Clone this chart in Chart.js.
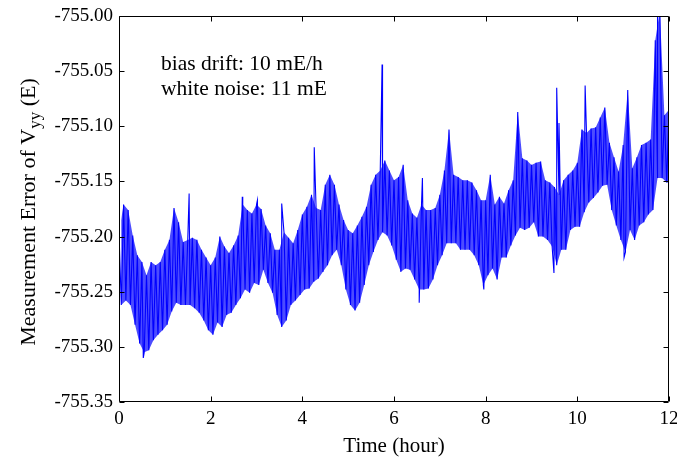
<!DOCTYPE html>
<html>
<head>
<meta charset="utf-8">
<script src="https://cdn.jsdelivr.net/npm/chart.js@4"></script>
<style>
  html, body { margin: 0; padding: 0; background: #fff; }
  canvas { display: block; }
</style>
</head>
<body>
<canvas id="c" width="677" height="461"></canvas>
<script>
const hours = [
  0.0,0.1,0.2,0.3,0.4,0.5,0.6,0.7,0.8,0.9,
  1.0,1.1,1.2,1.3,1.4,1.5,1.6,1.7,1.8,1.9,
  2.0,2.1,2.2,2.3,2.4,2.5,2.6,2.7,2.8,2.9,
  3.0,3.1,3.2,3.3,3.4,3.5,3.6,3.7,3.8,3.9,
  4.0,4.1,4.2,4.3,4.4,4.5,4.6,4.7,4.8,4.9,
  5.0,5.1,5.2,5.3,5.4,5.5,5.6,5.7,5.8,5.9,
  6.0,6.1,6.2,6.3,6.4,6.5,6.6,6.7,6.8,6.9,
  7.0,7.1,7.2,7.3,7.4,7.5,7.6,7.7,7.8,7.9,
  8.0,8.1,8.2,8.3,8.4,8.5,8.6,8.7,8.8,8.9,
  9.0,9.1,9.2,9.3,9.4,9.5,9.6,9.7,9.8,9.9,
  10.0,10.1,10.2,10.3,10.4,10.5,10.6,10.7,10.8,10.9,
  11.0,11.1,11.2,11.3,11.4,11.5,11.6,11.7,11.8,11.9,
  12.0
];
const highs = [
  -755.196,-755.171,-755.176,-755.199,-755.217,-755.223,-755.235,-755.223,-755.226,-755.223,
  -755.212,-755.203,-755.174,-755.187,-755.205,-755.203,-755.201,-755.203,-755.212,-755.219,
  -755.226,-755.219,-755.200,-755.209,-755.215,-755.208,-755.199,-755.171,-755.176,-755.179,
  -755.171,-755.175,-755.190,-755.197,-755.212,-755.212,-755.196,-755.201,-755.206,-755.194,
  -755.180,-755.173,-755.162,-755.174,-755.176,-755.153,-755.144,-755.153,-755.171,-755.185,
  -755.194,-755.197,-755.190,-755.182,-755.173,-755.153,-755.144,-755.140,-755.131,-755.140,
  -755.149,-755.146,-755.135,-755.167,-755.179,-755.183,-755.171,-755.176,-755.176,-755.174,
  -755.162,-755.140,-755.103,-755.144,-755.146,-755.149,-755.149,-755.151,-755.158,-755.167,
  -755.167,-755.144,-755.171,-755.164,-755.170,-755.158,-755.149,-755.087,-755.129,-755.131,
  -755.135,-755.133,-755.132,-755.149,-755.151,-755.155,-755.162,-755.149,-755.144,-755.140,
  -755.133,-755.103,-755.106,-755.102,-755.101,-755.092,-755.083,-755.115,-755.128,-755.141,
  -755.117,-755.067,-755.138,-755.128,-755.117,-755.115,-755.112,-755.022,-754.995,-755.090,
  -755.085
];
const lows = [
  -755.262,-755.258,-755.262,-755.280,-755.297,-755.305,-755.303,-755.294,-755.289,-755.285,
  -755.280,-755.268,-755.260,-755.262,-755.262,-755.262,-755.265,-755.269,-755.276,-755.285,
  -755.289,-755.278,-755.282,-755.271,-755.269,-755.262,-755.256,-755.248,-755.251,-755.242,
  -755.244,-755.230,-755.242,-755.251,-755.271,-755.282,-755.276,-755.262,-755.258,-755.253,
  -755.248,-755.247,-755.241,-755.238,-755.232,-755.226,-755.217,-755.212,-755.226,-755.248,
  -755.262,-755.267,-755.260,-755.244,-755.226,-755.214,-755.203,-755.196,-755.199,-755.208,
  -755.221,-755.232,-755.229,-755.230,-755.239,-755.248,-755.248,-755.247,-755.239,-755.226,
  -755.217,-755.206,-755.206,-755.206,-755.212,-755.212,-755.212,-755.217,-755.226,-755.244,
  -755.235,-755.229,-755.239,-755.219,-755.219,-755.208,-755.199,-755.192,-755.194,-755.192,
  -755.187,-755.200,-755.200,-755.203,-755.209,-755.226,-755.212,-755.212,-755.194,-755.191,
  -755.191,-755.178,-755.169,-755.165,-755.160,-755.154,-755.153,-755.176,-755.190,-755.203,
  -755.214,-755.194,-755.203,-755.190,-755.187,-755.180,-755.176,-755.147,-755.147,-755.151,
  -755.151
];
// single spikes that stick out of the band
const spikeHours = [0.53, 1.53, 2.69, 3.02, 3.55, 4.26, 5.74, 6.55, 6.62, 7.96, 9.49, 9.55, 9.60, 10.17, 11.02, 11.75];
const spikeVals  = [-755.310, -755.161, -755.164, -755.167, -755.170, -755.119, -755.044, -755.260, -755.147, -755.248, -755.233, -755.065, -755.097, -755.063, -755.219, -754.985];

const xTicks = [0, 2, 4, 6, 8, 10, 12];
const yTicks = [-755.35, -755.30, -755.25, -755.20, -755.15, -755.10, -755.05, -755.00];
const notes = ['bias drift: 10 mE/h', 'white noise: 11 mE'];

const SERIF = '"Liberation Serif", "Times New Roman", serif';

// zig-zag between envelope values, lower value half a bin later
let pts = [];
hours.forEach((h, i) => {
    pts.push({ x: h, y: highs[i] });
    pts.push({ x: h + 0.05, y: lows[i] });
});
spikeHours.forEach((h, i) => pts.push({ x: h, y: spikeVals[i] }));
pts.sort((a, b) => a.x - b.x);

const upper = hours.map((h, i) => ({ x: h, y: highs[i] }));
const lower = hours.map((h, i) => ({ x: h + 0.05, y: lows[i] }));

const frame = {
    id: 'frame',
    afterDraw(chart) {
        const { ctx, chartArea: a, scales } = chart;
        const L = Math.round(a.left) + 0.5, R = Math.round(a.right) - 0.5;
        const T = Math.round(a.top) + 0.5, B = Math.round(a.bottom) - 0.5;
        ctx.save();
        ctx.strokeStyle = '#000';
        ctx.lineWidth = 1;
        ctx.beginPath();
        ctx.rect(L, T, R - L, B - T);
        // inward ticks on all four sides
        xTicks.forEach(v => {
            const px = Math.round(scales.x.getPixelForValue(v)) + 0.5;
            ctx.moveTo(px, B); ctx.lineTo(px, B - 5);
            ctx.moveTo(px, T); ctx.lineTo(px, T + 5);
        });
        yTicks.forEach(v => {
            const py = Math.round(scales.y.getPixelForValue(v)) + 0.5;
            ctx.moveTo(L, py); ctx.lineTo(L + 5, py);
            ctx.moveTo(R, py); ctx.lineTo(R - 5, py);
        });
        ctx.stroke();

        ctx.fillStyle = '#000';
        ctx.font = '21.5px ' + SERIF;
        ctx.textBaseline = 'alphabetic';
        ctx.textAlign = 'left';
        ctx.fillText(notes[0], a.left + 42, a.top + 54);
        ctx.fillText(notes[1], a.left + 42, a.top + 79);

        ctx.font = '21px ' + SERIF;
        ctx.textAlign = 'center';
        ctx.fillText('Time (hour)', (a.left + a.right) / 2, 452);

        // y title with subscript
        const p1 = 'Measurement Error of V', p2 = 'yy', p3 = ' (E)';
        ctx.font = '22px ' + SERIF;
        const w1 = ctx.measureText(p1).width, w3 = ctx.measureText(p3).width;
        ctx.font = '17px ' + SERIF;
        const w2 = ctx.measureText(p2).width;
        const W = w1 + w2 + w3;
        ctx.translate(35, (a.top + a.bottom) / 2 + 3);
        ctx.rotate(-Math.PI / 2);
        ctx.textAlign = 'left';
        ctx.font = '22px ' + SERIF;
        ctx.fillText(p1, -W / 2, 0);
        ctx.font = '17px ' + SERIF;
        ctx.fillText(p2, -W / 2 + w1, 5);
        ctx.font = '22px ' + SERIF;
        ctx.fillText(p3, -W / 2 + w1 + w2, 0);
        ctx.restore();
    }
};

new Chart(document.getElementById('c').getContext('2d'), {
    type: 'line',
    data: {
        datasets: [{
            data: pts,
            borderColor: '#0000ff',
            borderWidth: 1.1,
            pointRadius: 0,
            tension: 0,
            fill: false
        }, {
            data: upper,
            borderWidth: 0,
            borderColor: 'rgba(0,0,0,0)',
            pointRadius: 0,
            tension: 0,
            backgroundColor: 'rgba(0,0,255,0.7)',
            fill: '+1'
        }, {
            data: lower,
            borderWidth: 0,
            borderColor: 'rgba(0,0,0,0)',
            pointRadius: 0,
            tension: 0,
            fill: false
        }]
    },
    options: {
        responsive: false,
        animation: false,
        parsing: false,
        layout: { padding: { left: 0, top: 16, right: 8, bottom: 0 } },
        plugins: { legend: { display: false }, tooltip: { enabled: false } },
        scales: {
            x: {
                type: 'linear', min: 0, max: 12,
                afterBuildTicks: s => { s.ticks = xTicks.map(v => ({ value: v })); },
                ticks: { color: '#000', font: { family: SERIF, size: 19 }, padding: 6, maxRotation: 0 },
                grid: { display: false, drawTicks: false },
                border: { display: false },
                afterFit: s => { s.height = 59; s.paddingLeft = 0; s.paddingRight = 0; }
            },
            y: {
                min: -755.35, max: -755.00,
                afterBuildTicks: s => { s.ticks = yTicks.map(v => ({ value: v })); },
                ticks: { color: '#000', font: { family: SERIF, size: 19 }, padding: 6,
                         callback: v => v.toFixed(2) },
                grid: { display: false, drawTicks: false },
                border: { display: false },
                afterFit: s => { s.width = 119; s.paddingTop = 0; s.paddingBottom = 0; }
            }
        }
    },
    plugins: [frame]
});
</script>
</body>
</html>
